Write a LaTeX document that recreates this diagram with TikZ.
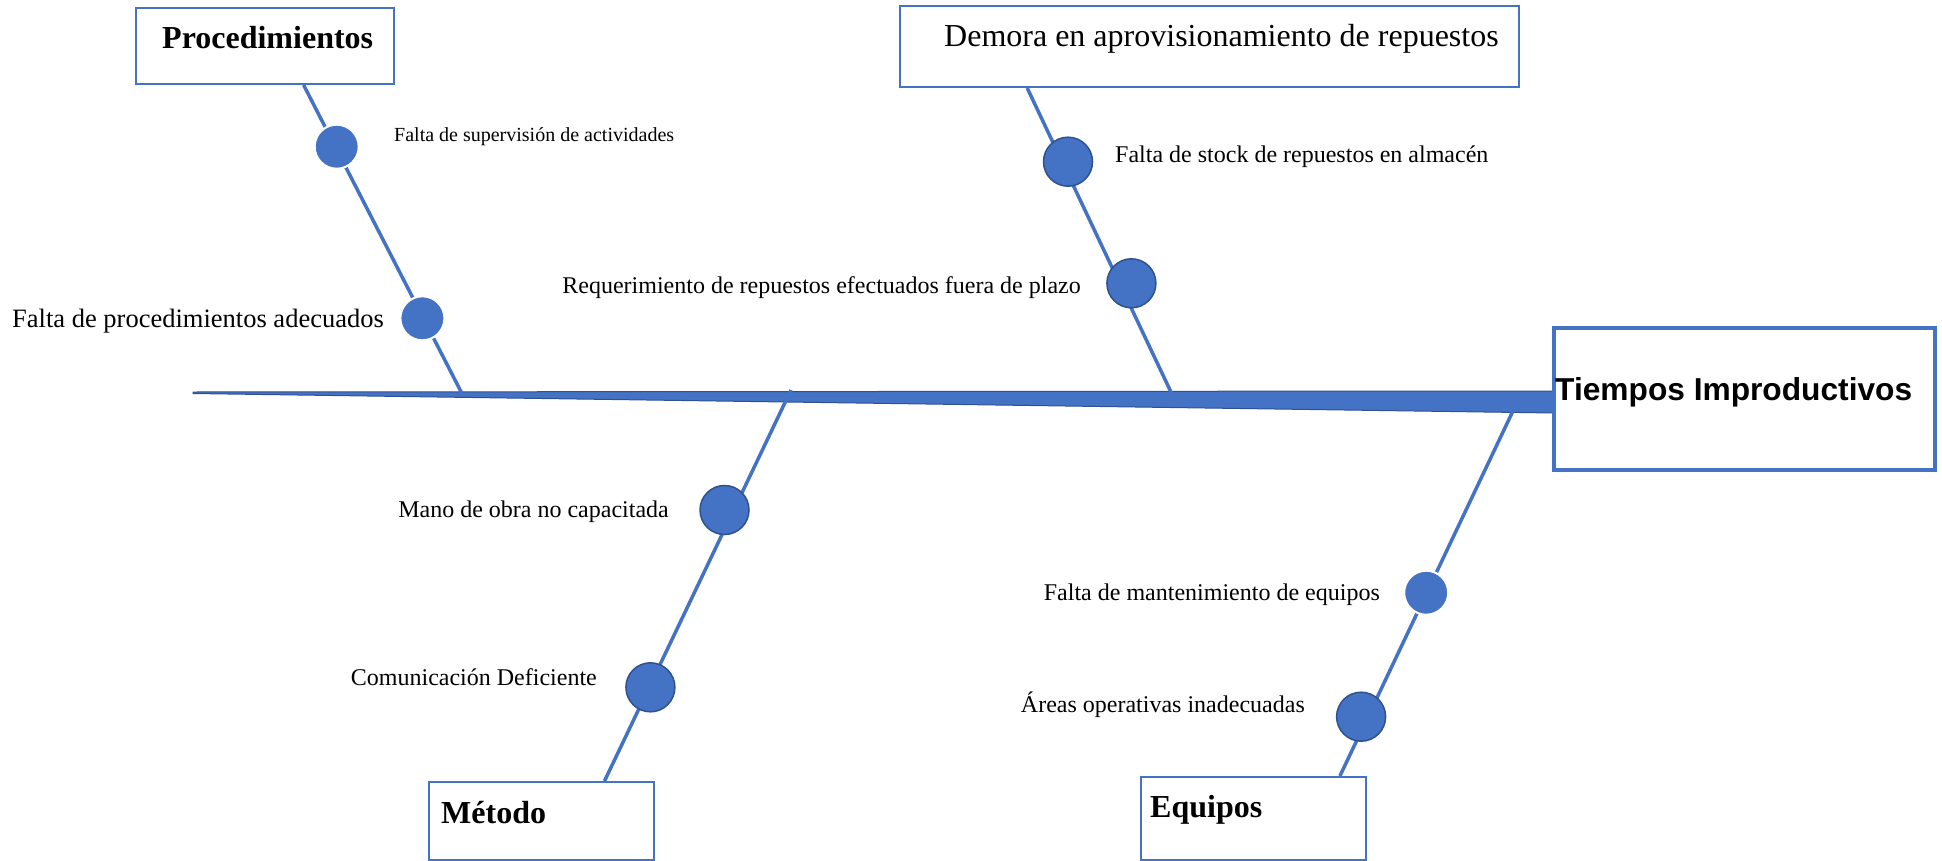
\documentclass[tikz,border=0pt]{standalone}
\usepackage{fontspec}
\setmainfont{Liberation Serif}
\newfontfamily\headsans{Liberation Sans}
\usetikzlibrary{positioning}
\definecolor{boneblue}{HTML}{4472C4}
\definecolor{dotedge}{HTML}{2F528F}
\tikzset{
	cause_box/.style = {
		rectangle,
		draw=boneblue,
		line width=2pt,
		fill=white,
		inner sep=0pt
	},
	head_box/.style = {
		cause_box,
		line width=3.5pt
	},
	cause_dot/.style = {
		circle,
		fill=boneblue,
		draw=white,
		line width=2pt,
		inner sep=0pt,
		minimum size=44pt
	},
	cause_dot_b/.style = {
		cause_dot,
		draw=dotedge,
		line width=1.5pt,
		minimum size=49pt
	},
	bone/.style = {
		draw=boneblue,
		line width=3.5pt
	},
	spine/.style = {
		fill=boneblue,
		draw=dotedge,
		line width=1pt
	},
	cause_text/.style = {
		inner sep=0pt,
		font=\fontsize{24}{28}\selectfont
	},
	cause_text_s/.style = {
		cause_text,
		font=\fontsize{20}{24}\selectfont
	},
	cause_text_l/.style = {
		cause_text,
		font=\fontsize{26.5}{31}\selectfont
	},
	title_text/.style = {
		inner sep=0pt,
		font=\fontsize{32}{38}\selectfont\bfseries
	},
	title_text_r/.style = {
		title_text,
		font=\fontsize{32}{38}\selectfont
	},
	head_text/.style = {
		inner sep=0pt,
		font=\headsans\bfseries\fontsize{31.7}{38}\selectfont
	}
}

\begin{document}
\begin{tikzpicture}[x=1pt,y=-1pt]
\useasboundingbox (0,0) rectangle (1942,861);

\path[spine] (193,392) -- (1554,391) -- (1554,413) -- (193,393.5) -- cycle;

\coordinate (proc_root) at (461.7,393);
\coordinate (dem_root) at (1171.4,393);
\coordinate (met_root) at (791,390);
\coordinate (equ_root) at (1512.6,411.7);

\node [cause_box, minimum width=258pt, minimum height=76pt] (proc) at (265,46) {};
\node [cause_box, minimum width=619pt, minimum height=81pt] (dem) at (1209.5,46.5) {};
\node [cause_box, minimum width=225pt, minimum height=78pt] (met) at (541.5,821) {};
\node [cause_box, minimum width=225pt, minimum height=83pt] (equ) at (1253.5,818.5) {};
\node [head_box, minimum width=381pt, minimum height=142pt] (head) at (1744.5,399) {};

\node [title_text, anchor=base west] (proc_t) at (162,49) {Procedimientos};
\node [title_text_r, anchor=base west] (dem_t) at (944,47) {Demora en aprovisionamiento de repuestos};
\node [title_text, anchor=base west] (met_t) at (441,823) {Método};
\node [title_text, anchor=base west] (equ_t) at (1150,817) {Equipos};
\node [head_text, anchor=base west] (head_t) at (1555,400) {Tiempos Improductivos};

\draw [bone] ([xshift=38.6pt]proc.south) -- (proc_root);
\draw [bone] ([xshift=-182.3pt]dem.south) -- (dem_root);
\draw [bone] (met_root) -- ([xshift=63pt]met.north);
\draw [bone] (equ_root) -- ([xshift=86.4pt]equ.north);

\node [cause_dot] (p1) at (336.7,146.7) {};
\node [cause_dot] (p2) at (422.4,318.3) {};
\node [cause_dot_b] (d1) at (1068,161.7) {};
\node [cause_dot_b] (d2) at (1131.4,283.3) {};
\node [cause_dot_b] (m1) at (724.5,510) {};
\node [cause_dot_b] (m2) at (650.4,687.3) {};
\node [cause_dot] (e1) at (1426.2,592.7) {};
\node [cause_dot_b] (e2) at (1361.1,716.7) {};

\node [cause_text_s, anchor=base west] (p1_t) at (394,142) {Falta de supervisión de actividades};
\node [cause_text_l, anchor=base west] (p2_t) at (12,327) {Falta de procedimientos adecuados};
\node [cause_text, anchor=base west] (d1_t) at (1115,162.5) {Falta de stock de repuestos en almacén};
\node [cause_text, anchor=base east] (d2_t) at (1081,293) {Requerimiento de repuestos efectuados fuera de plazo};
\node [cause_text, anchor=base east] (m1_t) at (669,517) {Mano de obra no capacitada};
\node [cause_text, anchor=base east] (m2_t) at (597,685) {Comunicación Deficiente};
\node [cause_text, anchor=base east] (e1_t) at (1380,600) {Falta de mantenimiento de equipos};
\node [cause_text, anchor=base east] (e2_t) at (1305,712) {Áreas operativas inadecuadas};
\end{tikzpicture}
\end{document}
